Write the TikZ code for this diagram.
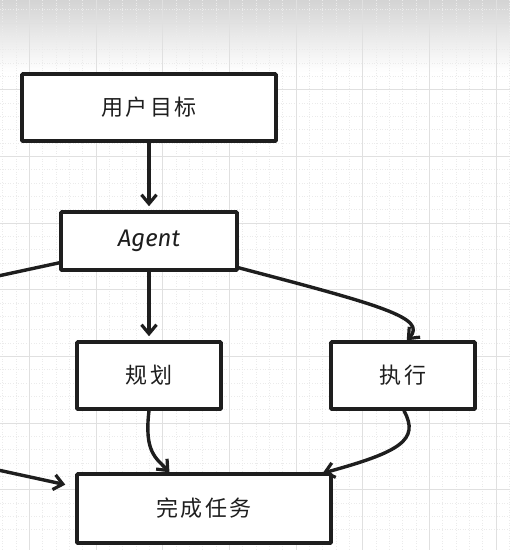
\documentclass[tikz,border=0pt]{standalone}
\usepackage{fontspec}
\newfontfamily\cjk{Noto Sans CJK SC}
\newfontfamily\hand{Fira Sans}
\usetikzlibrary{arrows.meta,calc}
\definecolor{ink}{HTML}{1E1E1E}
\definecolor{gridminor}{HTML}{EBEBEB}
\definecolor{gridmajor}{HTML}{E0E0E0}
\tikzset{
  boxnode/.style={draw=ink, line width=3.6pt, rectangle, rounded corners=0.8pt, fill=white, text=ink, font=\cjk\fontsize{22}{24}\selectfont, inner sep=0pt},
  conn/.style={draw=ink, line width=3.4pt, line cap=round, line join=round},
  arr/.style={conn, -{Straight Barb[length=9pt,width=15pt,line width=3.2pt]}, shorten >=4pt},
}
\begin{document}
\begin{tikzpicture}[x=1pt,y=-1pt]
\useasboundingbox (0,0) rectangle (510,550);
\fill[white] (0,0) rectangle (510,550);
\shade[top color=black!17, bottom color=white] (0,0) rectangle (510,72);
% grid
\begin{scope}
\clip (0,0) rectangle (510,550);
\foreach \i in {-3,...,40} {
  \draw[gridminor, line width=0.6pt, dotted] ({29.3+\i*13.333-2*13.333},0) -- ++(0,550);
  \draw[gridminor, line width=0.6pt, dotted] (0,{23+\i*13.333-2*13.333}) -- ++(510,0);
}
\foreach \i in {-1,...,8} {
  \draw[gridmajor, line width=0.8pt] ({29.3+\i*66.67},0) -- ++(0,550);
  \draw[gridmajor, line width=0.8pt] (0,{23+\i*66.67}) -- ++(510,0);
}
\end{scope}
% nodes
\node[boxnode, minimum width=254pt, minimum height=67pt] (goal) at (149,107.5) {用\hspace{2.5pt}户\hspace{2.5pt}目\hspace{2.5pt}标};
\node[boxnode, minimum width=176pt, minimum height=58pt, font=\hand\itshape\fontsize{24}{26}\selectfont] (agent) at (149,241) {Agent};
\node[boxnode, minimum width=144pt, minimum height=67pt] (plan) at (149,375.5) {规\hspace{2.5pt}划};
\node[boxnode, minimum width=144pt, minimum height=67pt] (exec) at (403,375.5) {执\hspace{2.5pt}行};
\node[boxnode, minimum width=254pt, minimum height=69pt] (done) at (204,508.5) {完\hspace{2.5pt}成\hspace{2.5pt}任\hspace{2.5pt}务};
\coordinate (leftout) at (-2,276);
\coordinate (leftin) at (-2,470);
% connectors
\draw[arr] (goal.south) -- (agent.north);
\draw[arr] (agent.south) -- (plan.north);
\draw[conn] ($(agent.south west)+(0,-9)$) -- (leftout);
\draw[arr] ($(agent.south east)+(0,-4)$) .. controls (380,305) and (428,318) .. ($(exec.north)+(1,3)$);
\draw[arr] (plan.south) .. controls (144,452) and (156,458) .. ($(done.north west)+(97,3)$);
\draw[arr] ($(exec.south)+(1,0)$) .. controls (420,440) and (400,452) .. ($(done.north east)+(-14,2)$);
\draw[arr] (leftin) -- ($(done.west)+(-6,-23)$);
\end{tikzpicture}
\end{document}
